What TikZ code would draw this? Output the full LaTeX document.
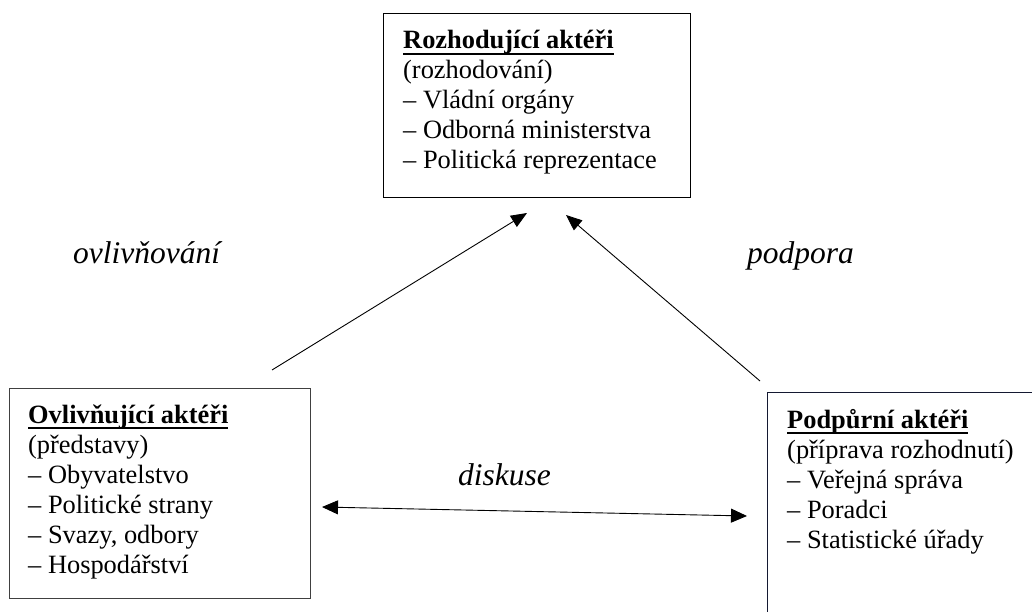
\documentclass[tikz,border=0pt]{standalone}
\usepackage{fontspec}
\setmainfont{Liberation Serif}
\usetikzlibrary{arrows.meta}
\newcommand\myul[1]{\setbox0\hbox{#1}\rlap{\rule[-6pt]{\wd0}{1.8pt}}\box0}
\begin{document}
\begin{tikzpicture}[x=1pt,y=-1pt,
  boxline/.style={draw=black, line width=1pt, inner sep=0pt},
  boxtext/.style={anchor=base west, inner sep=0pt, font=\fontsize{26.4}{30}\selectfont},
  lbl/.style={anchor=base west, inner sep=0pt, font=\fontsize{31.5}{36}\selectfont\itshape},
  conn/.style={line width=0.9pt, -{Triangle[length=16pt,width=13pt]}},
  dconn/.style={line width=0.9pt, {Triangle[length=16pt,width=14pt]}-{Triangle[length=16pt,width=14pt]}}
]
\useasboundingbox (0,0) rectangle (1032,612);
\clip (0,0) rectangle (1032,612);
\fill[white] (0,0) rectangle (1032,612);

% boxes
\node[boxline, anchor=north west, minimum width=307pt, minimum height=184pt] (top) at (383,13) {};
\node[boxline, draw=black!75, line width=1.3pt, anchor=north west, minimum width=301pt, minimum height=210pt] (left) at (9,388) {};
\node[boxline, draw={rgb,255:red,20;green,25;blue,50}, line width=1.2pt, anchor=north west, minimum width=300pt, minimum height=260pt] (right) at (767,392) {};

% texts
\node[boxtext] (toptext) at (403,49) {\begin{tabular}[t]{@{}l@{}}
\myul{\textbf{Rozhodující aktéři}}\\
(rozhodování)\\
– Vládní orgány\\
– Odborná ministerstva\\
– Politická reprezentace
\end{tabular}};
\node[boxtext] (lefttext) at (28,423) {\begin{tabular}[t]{@{}l@{}}
\myul{\textbf{Ovlivňující aktéři}}\\
(představy)\\
– Obyvatelstvo\\
– Politické strany\\
– Svazy, odbory\\
– Hospodářství
\end{tabular}};
\node[boxtext] (righttext) at (787,428) {\begin{tabular}[t]{@{}l@{}}
\myul{\textbf{Podpůrní aktéři}}\\
(příprava rozhodnutí)\\
– Veřejná správa\\
– Poradci\\
– Statistické úřady
\end{tabular}};

% labels
\node[lbl] (l1) at (73,263) {ovlivňování};
\node[lbl] (l2) at (747,263) {podpora};
\node[lbl] (l3) at (458,485) {diskuse};

% connectors
\coordinate (a1s) at (272,370);
\coordinate (a1e) at (527,213);
\coordinate (a2s) at (760,381);
\coordinate (a2e) at (566,215);
\coordinate (a3s) at (322,507);
\coordinate (a3e) at (747,516);
\draw[conn] (a1s) -- (a1e);
\draw[conn] (a2s) -- (a2e);
\draw[dconn] (a3s) -- (a3e);
\end{tikzpicture}
\end{document}
